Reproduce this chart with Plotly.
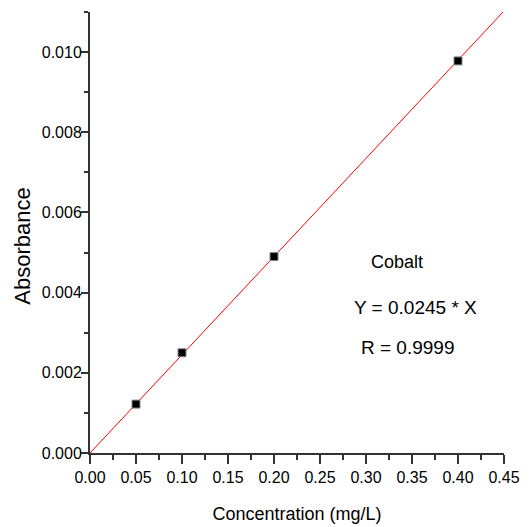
import plotly.graph_objects as go

conc = [0.05, 0.10, 0.20, 0.40]
absorb = [0.00122, 0.00250, 0.00490, 0.00978]
slope = 0.0245
fit_x = [0.0, 0.449]
fit_y = [slope * v for v in fit_x]
x_ticks = [0.0, 0.05, 0.10, 0.15, 0.20, 0.25, 0.30, 0.35, 0.40, 0.45]
y_ticks = [0.0, 0.002, 0.004, 0.006, 0.008, 0.010]

font = "Liberation Sans, Arial, sans-serif"

fig = go.Figure()
fig.add_trace(go.Scatter(x=fit_x, y=fit_y, mode="lines",
                         line=dict(color="#ff0000", width=1), cliponaxis=False,
                         showlegend=False))
fig.add_trace(go.Scatter(x=conc, y=absorb, mode="markers",
                         marker=dict(symbol="square", size=8, color="black",
                                     line=dict(color="#888888", width=1)),
                         cliponaxis=False, showlegend=False))

fig.add_annotation(x=0.3337, y=0.00476, text="Cobalt", showarrow=False,
                   font=dict(size=18, family=font, color="black"))
fig.add_annotation(x=0.3533, y=0.00364, text="Y = 0.0245 * X", showarrow=False,
                   font=dict(size=19, family=font, color="black"))
fig.add_annotation(x=0.3460, y=0.00264, text="R = 0.9999", showarrow=False,
                   font=dict(size=19, family=font, color="black"))
fig.add_annotation(xref="paper", yref="paper", x=-0.163, y=0.469,
                   xanchor="center", yanchor="middle",
                   text="Absorbance", textangle=-90, showarrow=False,
                   font=dict(size=22, family=font, color="black"))

fig.update_layout(
    width=531, height=527,
    margin=dict(l=90, r=27, t=12, b=74),
    plot_bgcolor="white", paper_bgcolor="white",
    font=dict(family=font, color="black"),
)
fig.update_xaxes(
    range=[0, 0.45], tickvals=x_ticks, ticktext=[f"{v:.2f}" for v in x_ticks],
    showgrid=False, zeroline=False, showline=True, linecolor="#333333", linewidth=2,
    ticks="outside", ticklen=9, tickwidth=2, tickcolor="#333333",
    tickfont=dict(size=16, family=font), automargin=False,
    minor=dict(dtick=0.025, tick0=0, ticks="outside", ticklen=5, tickwidth=2, tickcolor="#333333"),
    title=dict(text="Concentration (mg/L)", font=dict(size=18, family=font), standoff=22),
)
fig.update_yaxes(
    range=[0, 0.011], tickvals=y_ticks, ticktext=[f"{v:.3f}" for v in y_ticks],
    showgrid=False, zeroline=False, showline=True, linecolor="#333333", linewidth=2,
    ticks="outside", ticklen=7, tickwidth=2, tickcolor="#333333",
    tickfont=dict(size=16, family=font), automargin=False, ticklabelstandoff=-4,
    minor=dict(dtick=0.001, tick0=0, ticks="outside", ticklen=4, tickwidth=2, tickcolor="#333333"),
)

fig.write_html("out.html")
